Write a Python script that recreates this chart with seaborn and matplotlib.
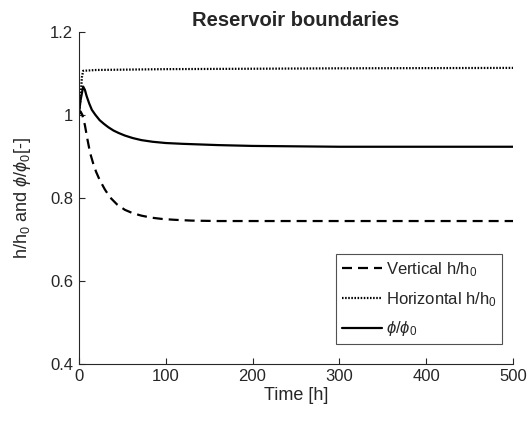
import matplotlib
matplotlib.use("Agg")
import matplotlib.pyplot as plt
import seaborn as sns
import pandas as pd

# Values
t_vert = [0, 2, 4, 7, 10, 13, 16.5, 20, 24, 30, 36, 44, 53, 62, 72, 84, 96, 110, 130, 160, 200, 300, 400, 500]
h_vert = [1.0, 1.008, 1.0, 0.975, 0.940, 0.908, 0.883, 0.862, 0.843, 0.820, 0.801, 0.784, 0.771, 0.763,
          0.757, 0.752, 0.749, 0.747, 0.745, 0.744, 0.744, 0.744, 0.744, 0.744]

t_horz = [0, 2, 3.5, 5, 20, 100, 200, 300, 500]
h_horz = [1.0, 1.04, 1.09, 1.106, 1.108, 1.110, 1.111, 1.112, 1.113]

t_phi = [0, 2, 5, 7, 9, 12, 15, 19, 24, 29, 34, 40, 46, 53, 62, 72, 85, 100, 120, 160, 200, 300, 400, 500]
phi = [1.0, 1.035, 1.068, 1.060, 1.045, 1.027, 1.012, 1.000, 0.987, 0.978, 0.970, 0.962, 0.956, 0.950,
       0.944, 0.939, 0.935, 0.932, 0.930, 0.927, 0.925, 0.923, 0.923, 0.923]

labels = [r"Vertical h/h$_0$", r"Horizontal h/h$_0$", r"$\phi/\phi_0$"]
yticks = [0.4, 0.6, 0.8, 1.0, 1.2]
ytick_labels = ["0.4", "0.6", "0.8", "1", "1.2"]
xticks = [0, 100, 200, 300, 400, 500]

sns.set_style("white")
plt.rcParams["font.family"] = ["Liberation Sans", "DejaVu Sans"]
plt.rcParams["mathtext.fontset"] = "custom"
plt.rcParams["mathtext.rm"] = "Liberation Sans"
plt.rcParams["mathtext.it"] = "Liberation Sans:italic"
plt.rcParams["mathtext.fallback"] = "stixsans"

axcol = "#262626"

fig = plt.figure(figsize=(5.29, 4.24), dpi=100)
ax = fig.add_axes([0.149, 0.142, 0.821, 0.783])

lw = 1.6
df_v = pd.DataFrame({"t": t_vert, "v": h_vert})
df_h = pd.DataFrame({"t": t_horz, "v": h_horz})
df_p = pd.DataFrame({"t": t_phi, "v": phi})
sns.lineplot(data=df_v, x="t", y="v", ax=ax, color="black", lw=lw, label=labels[0])
ax.lines[-1].set_dashes((4.5, 2.7))
sns.lineplot(data=df_h, x="t", y="v", ax=ax, color="black", lw=lw, label=labels[1])
ax.lines[-1].set_dashes((0.7, 0.7))
sns.lineplot(data=df_p, x="t", y="v", ax=ax, color="black", lw=lw, label=labels[2])

ax.set_xlim(0, 500)
ax.set_ylim(0.4, 1.2)
ax.set_xticks(xticks)
ax.set_yticks(yticks)
ax.set_yticklabels(ytick_labels)
ax.tick_params(direction="in", length=4, width=0.8, colors=axcol, labelsize=12,
               top=False, right=False, bottom=True, left=True, pad=4)
for s in ["top", "right"]:
    ax.spines[s].set_visible(False)
for s in ["left", "bottom"]:
    ax.spines[s].set_color(axcol)
    ax.spines[s].set_linewidth(0.8)

ax.set_xlabel("Time [h]", fontsize=13, color=axcol, labelpad=2)
ax.set_ylabel(r"h/h$_0$ and $\phi/\phi_0$[-]", fontsize=13, color=axcol, labelpad=12)
ax.set_title("Reservoir boundaries", fontsize=14.5, fontweight="bold", pad=4)

leg = ax.legend(loc="lower right", bbox_to_anchor=(0.975, 0.059), borderaxespad=0,
                fontsize=12, frameon=True, fancybox=False, handlelength=2.4,
                handletextpad=0.2, labelspacing=0.65, borderpad=0.35)
leg.get_frame().set_edgecolor(axcol)
leg.get_frame().set_linewidth(0.8)

fig.savefig("out.png", dpi=100)
